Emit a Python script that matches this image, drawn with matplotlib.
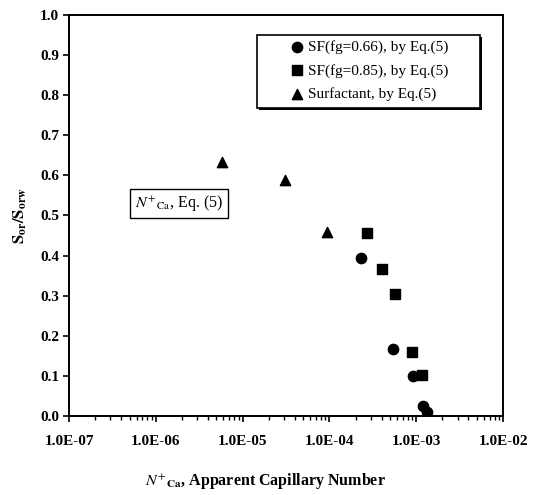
import matplotlib

matplotlib.use("Agg")
import matplotlib.pyplot as plt
from matplotlib.patches import Rectangle
from matplotlib.ticker import LogLocator, FixedLocator, NullFormatter

plt.rcParams["font.family"] = ["Liberation Serif", "DejaVu Serif"]
plt.rcParams["mathtext.fontset"] = "stix"

# data
sf066_x = [2.3e-4, 5.4e-4, 9.2e-4, 1.2e-3, 1.33e-3]
sf066_y = [0.394, 0.167, 0.100, 0.025, 0.010]
sf085_x = [2.7e-4, 4.0e-4, 5.7e-4, 8.9e-4, 1.17e-3]
sf085_y = [0.456, 0.367, 0.304, 0.160, 0.102]
surf_x = [5.8e-6, 3.1e-5, 9.4e-5]
surf_y = [0.633, 0.588, 0.459]

x_ticks = [1e-7, 1e-6, 1e-5, 1e-4, 1e-3, 1e-2]
x_labels = ["1.0E-07", "1.0E-06", "1.0E-05", "1.0E-04", "1.0E-03", "1.0E-02"]
y_ticks = [0.0, 0.1, 0.2, 0.3, 0.4, 0.5, 0.6, 0.7, 0.8, 0.9, 1.0]


def main() -> None:
    fig = plt.figure(figsize=(5.37, 4.95), dpi=100)
    ax = fig.add_axes([0.1285, 0.1596, 0.8082, 0.8101])

    ax.scatter(sf066_x, sf066_y, marker="o", s=55, color="black",
               label="SF(fg=0.66), by Eq.(5)", zorder=3)
    ax.scatter(sf085_x, sf085_y, marker="s", s=50, color="black",
               label="SF(fg=0.85), by Eq.(5)", zorder=3)
    ax.scatter(surf_x, surf_y, marker="^", s=55, color="black",
               label="Surfactant, by Eq.(5)", zorder=3)

    ax.set_xscale("log")
    ax.set_xlim(1e-7, 1e-2)
    ax.set_ylim(0.0, 1.0)
    ax.xaxis.set_major_locator(FixedLocator(x_ticks))
    ax.set_xticklabels(x_labels)
    ax.xaxis.set_minor_locator(LogLocator(base=10, subs=range(2, 10)))
    ax.xaxis.set_minor_formatter(NullFormatter())
    ax.set_yticks(y_ticks)
    ax.set_yticklabels([f"{v:.1f}" for v in y_ticks])

    ax.tick_params(axis="both", which="major", direction="out", length=4,
                   width=1.2, labelsize=11)
    ax.tick_params(axis="x", which="major", pad=10)
    ax.tick_params(axis="y", which="major", pad=3)
    ax.tick_params(axis="x", which="minor", direction="out", length=3, width=1)
    for lab in ax.get_xticklabels() + ax.get_yticklabels():
        lab.set_fontweight("bold")
    for sp in ax.spines.values():
        sp.set_linewidth(1.4)

    ax.set_xlabel(r"$\mathit{N}^{+}$$_{\mathbf{Ca}}$, Apparent Capillary Number",
                  fontsize=11.5, fontweight="bold", va="center")
    ax.xaxis.set_label_coords(0.452, -0.162)
    ax.set_ylabel(r"$\mathbf{S_{or}/S_{orw}}$", fontsize=12, labelpad=8)

    # legend frame drawn by hand: the box is much wider than its entries
    shadow = Rectangle((0.437, 0.762), 0.514, 0.182, transform=ax.transAxes,
                       facecolor="black", edgecolor="none", zorder=4)
    box = Rectangle((0.433, 0.768), 0.514, 0.182, transform=ax.transAxes,
                    facecolor="white", edgecolor="black", linewidth=1.2, zorder=5)
    ax.add_patch(shadow)
    ax.add_patch(box)

    leg = ax.legend(loc="upper left", bbox_to_anchor=(0.507, 0.937),
                    fontsize=11, handletextpad=0.25, handlelength=1.0,
                    borderpad=0, labelspacing=0.62, frameon=False,
                    borderaxespad=0)
    leg.set_zorder(6)

    ax.text(1.85e-6, 0.53, r"$\mathit{N}^{+}$$_{\mathrm{Ca}}$, Eq. (5)", fontsize=11.5,
            ha="center", va="center",
            bbox=dict(boxstyle="square,pad=0.3", facecolor="white",
                      edgecolor="black", linewidth=1.0))

    fig.savefig("out.png", dpi=100)


if __name__ == "__main__":
    main()
